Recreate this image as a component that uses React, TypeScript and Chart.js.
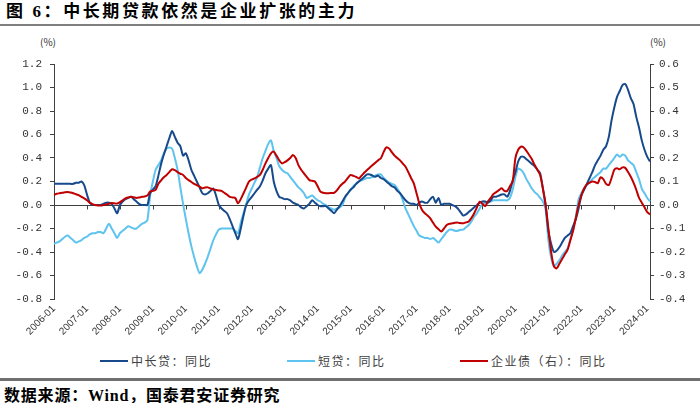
import React, { useEffect, useRef } from "react";
import { Chart, registerables } from "chart.js";

Chart.register(...registerables);

// ---- categories (monthly, 2006-01 .. 2024-02) ----
const startYear = 2006;
const monthCount = 218;
const categories: string[] = [];
for (let i = 0; i < monthCount; i++) {
  const y = startYear + Math.floor(i / 12);
  const m = (i % 12) + 1;
  categories.push(`${y}-${m < 10 ? "0" + m : m}`);
}

const yearTickLabels = [
  "2006-01", "2007-01", "2008-01", "2009-01", "2010-01", "2011-01", "2012-01",
  "2013-01", "2014-01", "2015-01", "2016-01", "2017-01", "2018-01", "2019-01",
  "2020-01", "2021-01", "2022-01", "2023-01", "2024-01",
];

const leftTicks = [-0.8, -0.6, -0.4, -0.2, 0, 0.2, 0.4, 0.6, 0.8, 1.0, 1.2];
const rightTicks = [-0.4, -0.3, -0.2, -0.1, 0, 0.1, 0.2, 0.3, 0.4, 0.5, 0.6];

const seriesNames = ["中长贷：同比", "短贷：同比", "企业债（右）：同比"];

// 中长贷：同比 (left axis, %)
const midLongLoans = [
  0.18, 0.18, 0.18, 0.18, 0.18, 0.18, 0.18, 0.18, 0.19, 0.19, 0.20, 0.17,
  0.09, 0.02, 0.00, 0.00, 0.00, 0.00, 0.01, 0.02, 0.02, 0.01, -0.03, -0.07,
  0.00, 0.03, 0.05, 0.06, 0.07, 0.05, 0.03, 0.01, 0.00, 0.00, 0.00, 0.10,
  0.13, 0.16, 0.25, 0.35, 0.43, 0.50, 0.57, 0.63, 0.58, 0.53, 0.50, 0.42,
  0.44, 0.38, 0.30, 0.25, 0.20, 0.15, 0.10, 0.09, 0.10, 0.12, 0.14, 0.08,
  0.00, -0.03, -0.05, -0.07, -0.12, -0.18, -0.24, -0.29, -0.20, -0.09, 0.00, 0.04,
  0.07, 0.10, 0.13, 0.16, 0.21, 0.27, 0.31, 0.34, 0.20, 0.12, 0.07, 0.06,
  0.05, 0.05, 0.04, 0.02, 0.01, 0.00, -0.02, -0.03, -0.01, 0.01, 0.04, 0.02,
  0.00, -0.01, -0.01, -0.01, -0.03, -0.05, -0.07, -0.04, -0.01, 0.03, 0.07, 0.10,
  0.13, 0.15, 0.18, 0.20, 0.22, 0.24, 0.26, 0.26, 0.25, 0.24, 0.25, 0.23,
  0.22, 0.20, 0.18, 0.16, 0.15, 0.12, 0.10, 0.07, 0.04, 0.02, 0.01, 0.01,
  0.00, 0.02, 0.03, 0.02, 0.02, 0.05, 0.07, 0.02, 0.06, 0.00, 0.01, 0.01,
  0.01, 0.00, -0.01, -0.03, -0.06, -0.09, -0.08, -0.06, -0.04, -0.02, 0.00, 0.02,
  0.03, 0.03, 0.02, 0.04, 0.07, 0.07, 0.08, 0.09, 0.09, 0.07, 0.12, 0.21,
  0.28, 0.37, 0.41, 0.41, 0.39, 0.37, 0.35, 0.33, 0.30, 0.27, 0.14, 0.00,
  -0.22, -0.33, -0.40, -0.39, -0.36, -0.32, -0.28, -0.26, -0.24, -0.18, -0.12, -0.03,
  0.08, 0.13, 0.18, 0.23, 0.28, 0.34, 0.38, 0.42, 0.47, 0.50, 0.58, 0.72,
  0.83, 0.92, 0.97, 1.02, 1.03, 0.98, 0.91, 0.86, 0.75, 0.66, 0.55, 0.47,
  0.41, 0.37,
];

// 短贷：同比 (left axis, %)
const shortLoans = [
  -0.33, -0.32, -0.31, -0.29, -0.27, -0.26, -0.28, -0.30, -0.32, -0.31, -0.30, -0.28,
  -0.27, -0.25, -0.24, -0.24, -0.23, -0.23, -0.24, -0.20, -0.16, -0.20, -0.24, -0.28,
  -0.24, -0.22, -0.20, -0.18, -0.19, -0.20, -0.20, -0.18, -0.16, -0.15, -0.13, 0.08,
  0.20, 0.30, 0.34, 0.38, 0.44, 0.48, 0.49, 0.48, 0.40, 0.30, 0.15, 0.01,
  -0.12, -0.24, -0.35, -0.44, -0.52, -0.58, -0.55, -0.50, -0.44, -0.37, -0.30, -0.25,
  -0.21, -0.20, -0.20, -0.20, -0.20, -0.20, -0.22, -0.24, -0.15, -0.07, 0.01, 0.09,
  0.14, 0.19, 0.24, 0.32, 0.40, 0.46, 0.52, 0.55, 0.46, 0.40, 0.33, 0.30,
  0.28, 0.27, 0.24, 0.21, 0.18, 0.15, 0.13, 0.10, 0.06, 0.07, 0.08, 0.06,
  0.04, 0.03, 0.01, 0.00, -0.02, -0.03, -0.04, -0.03, -0.02, 0.00, 0.06, 0.10,
  0.13, 0.16, 0.18, 0.20, 0.21, 0.22, 0.23, 0.23, 0.24, 0.25, 0.26, 0.26,
  0.23, 0.21, 0.19, 0.18, 0.17, 0.14, 0.10, 0.04, -0.03, -0.08, -0.13, -0.18,
  -0.22, -0.26, -0.27, -0.28, -0.28, -0.29, -0.28, -0.30, -0.32, -0.29, -0.26, -0.23,
  -0.21, -0.21, -0.22, -0.22, -0.21, -0.21, -0.19, -0.17, -0.14, -0.10, -0.07, -0.03,
  0.01, 0.02, 0.03, 0.03, 0.04, 0.04, 0.04, 0.04, 0.04, 0.04, 0.06, 0.13,
  0.24, 0.31, 0.30, 0.27, 0.22, 0.18, 0.14, 0.11, 0.09, 0.06, 0.03, -0.04,
  -0.30, -0.45, -0.52, -0.50, -0.47, -0.43, -0.40, -0.37, -0.29, -0.21, -0.10, 0.05,
  0.10, 0.14, 0.17, 0.19, 0.22, 0.24, 0.26, 0.28, 0.31, 0.31, 0.34, 0.37,
  0.40, 0.43, 0.41, 0.43, 0.42, 0.38, 0.36, 0.34, 0.28, 0.22, 0.14, 0.10,
  0.06, 0.03,
];

// 企业债（右）：同比 (right axis, %)
const corporateBonds = [
  0.043, 0.048, 0.050, 0.052, 0.054, 0.055, 0.053, 0.050, 0.046, 0.042, 0.035, 0.028,
  0.020, 0.010, 0.004, 0.000, -0.002, -0.002, 0.000, 0.002, 0.005, 0.008, 0.007, 0.006,
  0.012, 0.020, 0.028, 0.032, 0.035, 0.033, 0.030, 0.032, 0.035, 0.036, 0.040, 0.057,
  0.060, 0.064, 0.090, 0.105, 0.118, 0.128, 0.140, 0.152, 0.148, 0.140, 0.133, 0.128,
  0.115, 0.106, 0.098, 0.090, 0.085, 0.078, 0.071, 0.074, 0.075, 0.070, 0.066, 0.064,
  0.062, 0.060, 0.052, 0.044, 0.035, 0.032, 0.030, 0.007, 0.025, 0.050, 0.075, 0.100,
  0.108, 0.113, 0.120, 0.128, 0.150, 0.177, 0.200, 0.220, 0.227, 0.210, 0.190, 0.177,
  0.182, 0.190, 0.200, 0.213, 0.200, 0.170, 0.150, 0.135, 0.120, 0.106, 0.103, 0.100,
  0.080, 0.057, 0.052, 0.050, 0.050, 0.051, 0.052, 0.062, 0.078, 0.090, 0.100, 0.115,
  0.128, 0.124, 0.120, 0.113, 0.125, 0.138, 0.149, 0.160, 0.170, 0.180, 0.190, 0.199,
  0.225, 0.245, 0.240, 0.225, 0.210, 0.200, 0.190, 0.176, 0.163, 0.140, 0.115, 0.092,
  0.050, 0.007, -0.021, -0.035, -0.045, -0.057, -0.075, -0.092, -0.103, -0.113, -0.100, -0.085,
  -0.080, -0.078, -0.076, -0.075, -0.077, -0.078, -0.074, -0.070, -0.055, -0.035, -0.010, 0.014,
  0.005, -0.005, 0.015, 0.030, 0.047, 0.055, 0.063, 0.071, 0.060, 0.060, 0.080, 0.100,
  0.200, 0.235, 0.248, 0.245, 0.230, 0.213, 0.195, 0.170, 0.150, 0.128, 0.070, 0.000,
  -0.100, -0.200, -0.260, -0.270, -0.250, -0.230, -0.210, -0.190, -0.150, -0.110, -0.055, 0.000,
  0.040, 0.070, 0.088, 0.095, 0.100, 0.098, 0.093, 0.118, 0.110, 0.090, 0.085, 0.115,
  0.150, 0.156, 0.152, 0.160, 0.158, 0.140, 0.120, 0.095, 0.065, 0.030, 0.010, -0.010,
  -0.030, -0.040,
];

const colors = ["#174A8B", "#5EC3EE", "#C00000"];
const axisColor = "#404040";
const tickFont = { family: '"Liberation Mono", "DejaVu Sans Mono", monospace', size: 11 };

const zeroLinePlugin = {
  id: "zeroLine",
  beforeDatasetsDraw(chart: any) {
    const { ctx, chartArea, scales } = chart;
    const xs = scales.x;
    const y0 = Math.round(scales.y.getPixelForValue(0)) + 0.5;
    ctx.save();
    ctx.strokeStyle = axisColor;
    ctx.lineWidth = 1;
    ctx.beginPath();
    ctx.moveTo(chartArea.left, y0);
    ctx.lineTo(chartArea.right, y0);
    categories.forEach((c, i) => {
      if (yearTickLabels.indexOf(c) >= 0) {
        const px = Math.round(xs.getPixelForValue(i)) + 0.5;
        ctx.moveTo(px, y0);
        ctx.lineTo(px, y0 + 4);
      }
    });
    ctx.stroke();
    ctx.restore();
  },
};

function ChartCanvas() {
  const ref = useRef<HTMLCanvasElement | null>(null);
  useEffect(() => {
    if (!ref.current) return;
    const chart = new Chart(ref.current, {
      type: "line",
      data: {
        labels: categories,
        datasets: [
          {
            label: seriesNames[0],
            data: midLongLoans,
            borderColor: colors[0],
            backgroundColor: colors[0],
            yAxisID: "y",
            order: 2,
          },
          {
            label: seriesNames[1],
            data: shortLoans,
            borderColor: colors[1],
            backgroundColor: colors[1],
            yAxisID: "y",
            order: 3,
          },
          {
            label: seriesNames[2],
            data: corporateBonds,
            borderColor: colors[2],
            backgroundColor: colors[2],
            yAxisID: "y1",
            order: 1,
          },
        ],
      },
      options: {
        responsive: false,
        animation: false,
        layout: { padding: { top: 34, left: 0, right: 0, bottom: 0 } },
        elements: {
          line: { borderWidth: 2, tension: 0.25 },
          point: { radius: 0, hoverRadius: 0 },
        },
        plugins: {
          legend: { display: false },
          tooltip: { enabled: false },
        },
        scales: {
          x: {
            type: "category",
            offset: false,
            grid: { display: false, drawTicks: false },
            border: { display: false },
            ticks: {
              autoSkip: false,
              minRotation: 45,
              maxRotation: 45,
              padding: 4,
              color: "#333",
              font: { family: '"Liberation Sans", Arial, sans-serif', size: 10 },
              callback: (_v: any, i: number) =>
                yearTickLabels.indexOf(categories[i]) >= 0 ? categories[i] : "",
            },
            afterFit: (s: any) => {
              s.height = 51;
              s.paddingLeft = 0;
              s.paddingRight = 0;
            },
          },
          y: {
            position: "left",
            min: leftTicks[0],
            max: leftTicks[leftTicks.length - 1],
            grid: {
              drawOnChartArea: false,
              drawTicks: true,
              tickLength: 4,
              color: axisColor,
              tickColor: axisColor,
            },
            border: { display: true, color: axisColor, width: 1 },
            afterBuildTicks: (s: any) => {
              s.ticks = leftTicks.map((v) => ({ value: v }));
            },
            ticks: {
              color: "#333",
              font: tickFont,
              padding: 8,
              callback: (v: any) => Number(v).toFixed(1),
            },
            afterFit: (s: any) => {
              s.width = 54;
              s.paddingTop = 0;
              s.paddingBottom = 0;
            },
          },
          y1: {
            position: "right",
            min: rightTicks[0],
            max: rightTicks[rightTicks.length - 1],
            grid: {
              drawOnChartArea: false,
              drawTicks: true,
              tickLength: 4,
              color: axisColor,
              tickColor: axisColor,
            },
            border: { display: true, color: axisColor, width: 1 },
            afterBuildTicks: (s: any) => {
              s.ticks = rightTicks.map((v) => ({ value: v }));
            },
            ticks: {
              color: "#333",
              font: tickFont,
              padding: 5,
              callback: (v: any) => Number(v).toFixed(1),
            },
            afterFit: (s: any) => {
              s.width = 50;
              s.paddingTop = 0;
              s.paddingBottom = 0;
            },
          },
        },
      } as any,
      plugins: [zeroLinePlugin],
    });
    return () => chart.destroy();
  }, []);
  return (
    <canvas
      ref={ref}
      width={700}
      height={320}
      style={{ position: "absolute", left: 0, top: 30, width: 700, height: 320 }}
    />
  );
}

export default function App() {
  const cjk = '"Liberation Serif", "Noto Sans CJK SC", serif';
  const legendFont = '"Noto Sans CJK SC", sans-serif';
  const legendItems = [
    { left: 100, color: colors[0], text: seriesNames[0] },
    { left: 287, color: colors[1], text: seriesNames[1] },
    { left: 460, color: colors[2], text: seriesNames[2] },
  ];
  return (
    <div
      style={{
        position: "absolute",
        left: 0,
        top: 0,
        width: 700,
        height: 403,
        background: "#fff",
        overflow: "hidden",
      }}
    >
      <div
        style={{
          position: "absolute",
          left: 6,
          top: 1,
          fontFamily: cjk,
          fontWeight: 700,
          fontSize: 17,
          letterSpacing: 2.6,
          color: "#000",
          whiteSpace: "nowrap",
          lineHeight: "22px",
        }}
      >
        图 6：中长期贷款依然是企业扩张的主力
      </div>
      <div style={{ position: "absolute", left: 0, top: 24, width: 700, height: 2, background: "#7f7f7f" }} />
      <div
        style={{
          position: "absolute",
          left: 40,
          top: 36,
          fontFamily: legendFont,
          fontSize: 10,
          color: "#333",
          lineHeight: "12px",
        }}
      >
        (%)
      </div>
      <div
        style={{
          position: "absolute",
          left: 650,
          top: 36,
          fontFamily: legendFont,
          fontSize: 10,
          color: "#333",
          lineHeight: "12px",
        }}
      >
        (%)
      </div>
      <ChartCanvas />
      {legendItems.map((it) => (
        <div
          key={it.text}
          style={{
            position: "absolute",
            left: it.left,
            top: 353,
            height: 16,
            display: "flex",
            alignItems: "center",
            whiteSpace: "nowrap",
          }}
        >
          <div style={{ width: 28, height: 2.5, background: it.color, marginRight: 3 }} />
          <span
            style={{
              fontFamily: legendFont,
              fontSize: 12,
              letterSpacing: 1.5,
              color: "#404040",
              lineHeight: "16px",
            }}
          >
            {it.text}
          </span>
        </div>
      ))}
      <div style={{ position: "absolute", left: 0, top: 378, width: 700, height: 3, background: "#707070" }} />
      <div
        style={{
          position: "absolute",
          left: 4,
          top: 385,
          fontFamily: cjk,
          fontWeight: 700,
          fontSize: 16,
          letterSpacing: 0.8,
          color: "#000",
          whiteSpace: "nowrap",
          lineHeight: "22px",
        }}
      >
        数据来源：Wind，国泰君安证券研究
      </div>
    </div>
  );
}
